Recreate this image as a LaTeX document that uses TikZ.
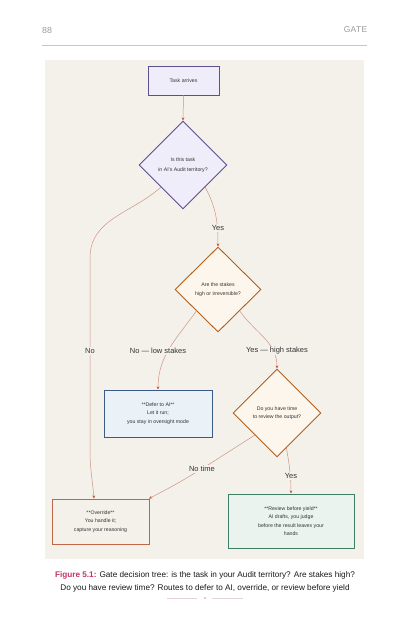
\documentclass[tikz,border=0pt]{standalone}
\usepackage{fontspec}
\setmainfont{Liberation Sans}
\usetikzlibrary{shapes.geometric,arrows.meta,calc}
\definecolor{panel}{HTML}{F4F1EB}
\definecolor{purpfill}{HTML}{EFEDF9}
\definecolor{purpline}{HTML}{5E4F8F}
\definecolor{orfill}{HTML}{FDF6EC}
\definecolor{orline}{HTML}{B0601E}
\definecolor{bluefill}{HTML}{EAF1F7}
\definecolor{blueline}{HTML}{3B5B86}
\definecolor{redline}{HTML}{C0664B}
\definecolor{greenfill}{HTML}{EAF3EE}
\definecolor{greenline}{HTML}{3E7D66}
\definecolor{edgec}{HTML}{CF9382}
\definecolor{tipc}{HTML}{C2573E}
\definecolor{txt}{HTML}{333333}
\definecolor{headc}{HTML}{9A9A9A}
\definecolor{figc}{HTML}{C2336B}
\definecolor{divc}{HTML}{E6D3D9}
\begin{document}
\begin{tikzpicture}[x=1pt,y=1pt,
  every node/.style={text=txt},
  boxnode/.style={draw, line width=0.9pt, align=center, inner sep=2pt,
    font=\fontsize{5.2}{8.5}\selectfont},
  dianode/.style={diamond, draw, line width=0.9pt, align=center, inner sep=0pt,
    aspect=1, font=\fontsize{5.2}{8.5}\selectfont},
  conn/.style={draw=edgec, line width=0.5pt, -{Stealth[length=3.2pt,width=2.8pt,color=tipc]}},
  elabel/.style={fill=panel, inner sep=1pt, font=\fontsize{7.5}{8.5}\selectfont, text=txt}
]
\useasboundingbox (0,0) rectangle (420,630);
% header
\node[anchor=west, text=headc, font=\fontsize{8.8}{10}\selectfont, inner sep=0pt] (pnum) at (42,600) {88};
\node[anchor=east, text=headc, font=\fontsize{8.5}{10}\selectfont\addfontfeatures{LetterSpace=4}, inner sep=0pt] (chap) at (367.5,600) {GATE};
\draw[draw=black!22, line width=0.7pt] (42,585) -- (367,585);
% panel
\fill[panel] (45,71) rectangle (364,570);
% nodes
\node[boxnode, fill=purpfill, draw=purpline, minimum width=71pt, minimum height=29pt] (task) at (183.5,549.5) {Task arrives};
\node[dianode, fill=purpfill, draw=purpline, minimum width=88pt, minimum height=88pt, font=\fontsize{5.2}{10}\selectfont] (d1) at (183,465) {Is this task\\in AI's Audit territory?};
\node[dianode, fill=orfill, draw=orline, minimum width=86pt, minimum height=85pt] (d2) at (218,340.5) {Are the stakes\\high or irreversible?};
\node[dianode, fill=orfill, draw=orline, minimum width=88pt, minimum height=88pt] (d3) at (277,217) {Do you have time\\to review the output?};
\node[boxnode, fill=bluefill, draw=blueline, minimum width=108pt, minimum height=47pt] (defer) at (158,216.5) {**Defer to AI**\\Let it run;\\you stay in oversight mode};
\node[boxnode, fill=panel, draw=redline, minimum width=97pt, minimum height=45pt] (ov) at (100.5,108.5) {**Override**\\You handle it;\\capture your reasoning};
\node[boxnode, fill=greenfill, draw=greenline, minimum width=126pt, minimum height=54pt] (rv) at (291,109) {**Review before yield**\\AI drafts, you judge\\before the result leaves your\\hands};
% helper coordinates
\coordinate (noA) at (90,372);
\coordinate (noB) at (90,180);
\coordinate (ovIn) at ($(ov.north)+(-6.5,0)$);
\coordinate (ntIn) at ($(ov.north east)+(-0.5,0)$);
% connectors
\draw[conn] (task.south) -- (d1.north);
\draw[conn] (d1.south east) to[out=-62,in=90] (d2.north);
\draw[conn] (d1.south west) to[out=-138,in=90] (noA) -- (noB) to[out=-90,in=95] (ovIn);
\draw[conn] (d2.south west) to[out=-125,in=90] (defer.north);
\draw[conn] (d2.south east) to[out=-55,in=90] (d3.north);
\draw[conn] (d3.south west) to[out=-148,in=27] (ntIn);
\draw[conn] (d3.-75) to[out=-80,in=90] (rv.north);
% edge labels
\node[elabel] (lyes1) at (218,402) {Yes};
\node[elabel] (lno) at (90,279) {No};
\node[elabel] (llow) at (158,279) {No — low stakes};
\node[elabel] (lhigh) at (277,279) {Yes — high stakes};
\node[elabel] (lnotime) at (202,161) {No time};
\node[elabel] (lyes2) at (291,154) {Yes};
% caption
\node[font=\fontsize{8.2}{13}\selectfont, align=center, text=black!90] (cap) at (205,48.5)
  {{\color{figc}\bfseries Figure 5.1:} Gate decision tree: is the task in your Audit territory? Are stakes high?\\
   Do you have review time? Routes to defer to AI, override, or review before yield};
% divider
\draw[divc, line width=0.5pt] (167,32) -- (197,32);
\draw[divc, line width=0.5pt] (212,32) -- (243,32);
\fill[figc!60] (205,32) circle (0.8);
\end{tikzpicture}
\end{document}
